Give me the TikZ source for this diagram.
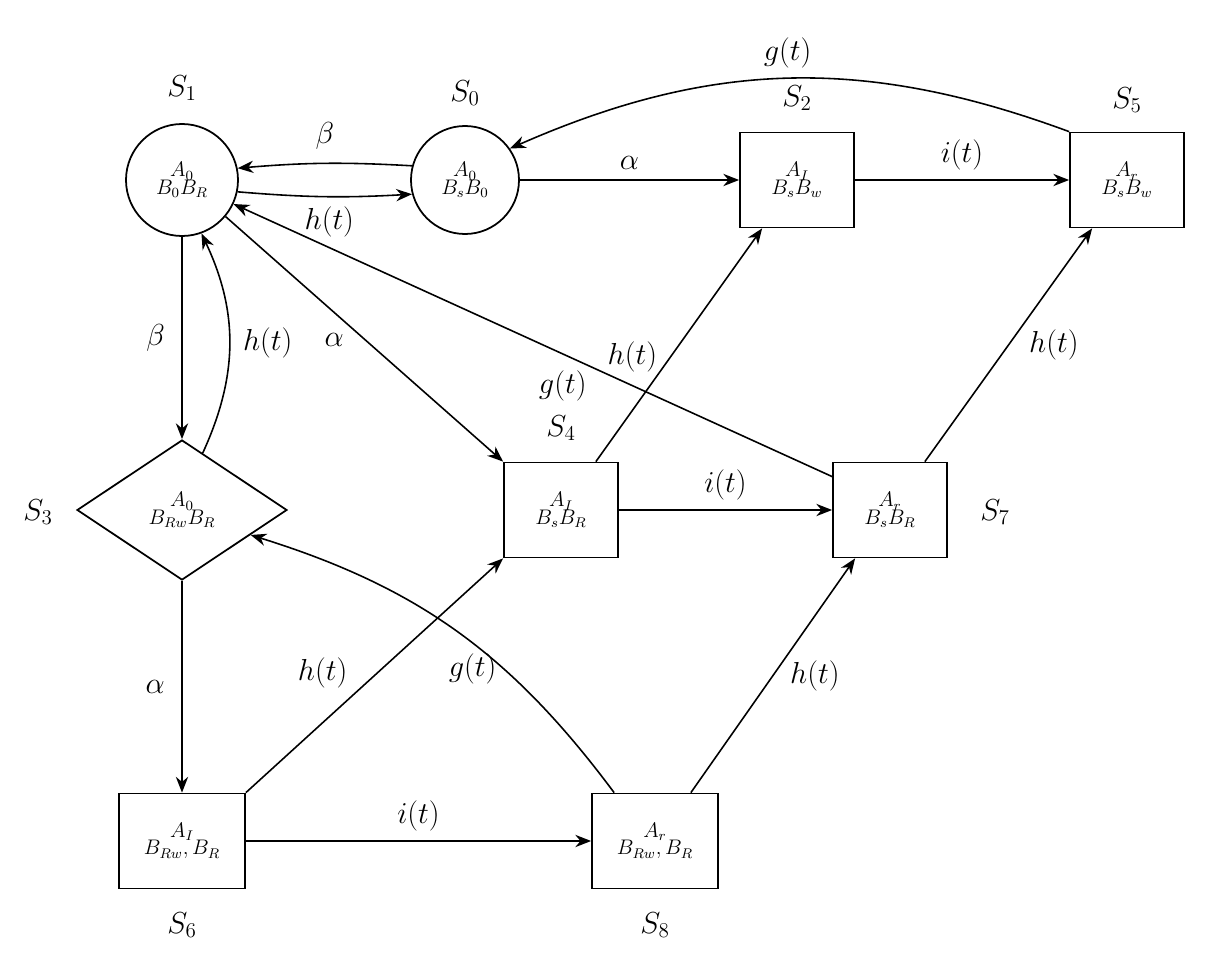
\documentclass[tikz,border=0pt]{standalone}
\usetikzlibrary{shapes.geometric,arrows.meta,calc}
\begin{document}
\begin{tikzpicture}[x=0.02cm,y=-0.02cm,
  st/.style={draw,line width=1pt,align=center,font=\large,inner sep=0pt},
  circ/.style={st,circle,minimum size=112*0.02cm},
  box/.style={st,rectangle,minimum width=114*0.02cm,minimum height=95*0.02cm},
  wbox/.style={box,minimum width=126*0.02cm},
  dia/.style={st,diamond,aspect=1.5,minimum width=210*0.02cm,minimum height=140*0.02cm},
  lab/.style={font=\LARGE},
  ar/.style={-{Stealth[length=9pt,width=7pt]},line width=0.9pt}]
\useasboundingbox (0,0) rectangle (1208,960);
\node[circ] (S1) at (182,180) {$A_0$\\[-4pt]$B_0B_R$};
\node[circ,minimum size=108*0.02cm] (S0) at (465,180) {$A_0$\\[-4pt]$B_sB_0$};
\node[box] (S2) at (797,180) {$A_I$\\[-4pt]$B_sB_w$};
\node[box] (S5) at (1127,180) {$A_r$\\[-4pt]$B_sB_w$};
\node[dia] (S3) at (182,510) {$A_0$\\[-4pt]$B_{Rw}B_R$};
\node[box] (S4) at (561,510) {$A_I$\\[-4pt]$B_sB_R$};
\node[box] (S7) at (890,510) {$A_r$\\[-4pt]$B_sB_R$};
\node[wbox] (S6) at (182,841) {$A_I$\\[-4pt]$B_{Rw},B_R$};
\node[wbox] (S8) at (655,841) {$A_r$\\[-4pt]$B_{Rw},B_R$};
\node[lab] (l1) at (182,88) {$S_1$};
\node[lab] (l0) at (465,93) {$S_0$};
\node[lab] (l2) at (797,98) {$S_2$};
\node[lab] (l5) at (1127,100) {$S_5$};
\node[lab] (l3) at (38,512) {$S_3$};
\node[lab] (l4) at (561,428) {$S_4$};
\node[lab] (l7) at (995,512) {$S_7$};
\node[lab] (l6) at (182,925) {$S_6$};
\node[lab] (l8) at (655,925) {$S_8$};
\draw[ar] (S0.165) to[bend right=4] node[lab,above=4pt]{$\beta$} (S1.12);
\draw[ar] (S1.-12) to[bend right=4] (S0.195);
\draw[ar] (S0) -- node[lab,above=2pt]{$\alpha$} (S2);
\draw[ar] (S2) -- node[lab,above=2pt]{$i(t)$} (S5);
\draw[ar] (S5.north west) to[bend right=22] node[lab,above=2pt]{$g(t)$} (S0.35);
\draw[ar] (S1) -- node[lab,left=6pt]{$\beta$} (S3);
\draw[ar] (S3.70) to[bend right=25] node[lab,right=4pt]{$h(t)$} (S1.-70);
\draw[ar] (S1.-40) -- node[lab,pos=0.45,below left=0pt]{$\alpha$} (S4.north west);
\draw[ar] (S7.150) -- node[lab,pos=0.84,above=2pt]{$h(t)$} node[lab,pos=0.45,below=6pt]{$g(t)$} (S1.-25);
\draw[ar] ($(S4.north east)+(-23,0)$) -- node[lab,pos=0.45,left=4pt]{$h(t)$} ($(S2.south west)+(23,0)$);
\draw[ar] (S4) -- node[lab,above=2pt]{$i(t)$} (S7);
\draw[ar] ($(S7.north east)+(-23,0)$) -- node[lab,pos=0.5,right=8pt]{$h(t)$} ($(S5.south west)+(23,0)$);
\draw[ar] (S3) -- node[lab,left=6pt]{$\alpha$} (S6);
\draw[ar] (S6.north east) -- node[lab,pos=0.42,above left=0pt]{$h(t)$} (S4.south west);
\draw[ar] (S6) -- node[lab,above=2pt]{$i(t)$} (S8);
\draw[ar] ($(S8.north west)+(23,0)$) to[bend right=18] node[lab,pos=0.45,below=2pt]{$g(t)$} (S3.-20);
\draw[ar] ($(S8.north east)+(-28,0)$) -- node[lab,pos=0.5,right=6pt]{$h(t)$} ($(S7.south west)+(23,0)$);
\end{tikzpicture}
\end{document}
